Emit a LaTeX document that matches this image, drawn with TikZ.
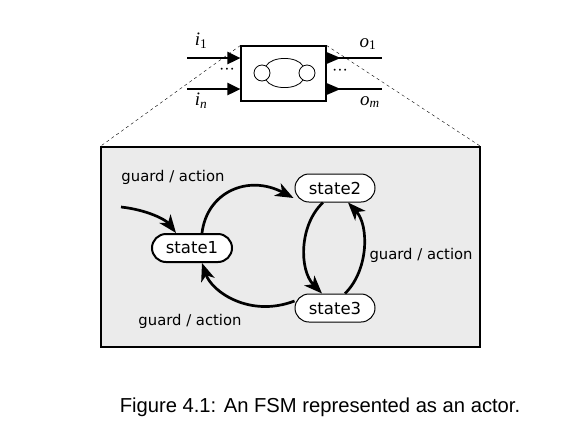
\documentclass[tikz,border=0pt]{standalone}
\usepackage{fontspec}
\setsansfont{DejaVu Sans}
\newfontfamily\capfont{Liberation Sans}
\newfontfamily\portfont{Liberation Serif}
\usetikzlibrary{arrows.meta,positioning,calc}

\begin{document}
\begin{tikzpicture}[x=1pt,y=-1pt,
  actorbox/.style={rectangle,draw,line width=1.1pt,fill=white,minimum width=85pt,minimum height=55pt,inner sep=0pt},
  portline/.style={line width=2.6pt,-{Triangle[length=13pt,width=12pt]}},
  portlab/.style={font=\portfont\itshape\fontsize{19}{21}\selectfont,inner sep=0pt},
  fsmstate/.style={rectangle,draw,fill=white,rounded corners=14pt,minimum width=80pt,minimum height=28pt,inner sep=0pt,font=\sffamily\fontsize{16.5}{18}\selectfont},
  trans/.style={line width=2.7pt,-{Stealth[length=18pt,width=14pt,inset=5pt]}},
  guardlab/.style={font=\sffamily\fontsize{14.8}{16}\selectfont}]
  \useasboundingbox (0,0) rectangle (576,440);
  %%actor
  \node[actorbox] (actor) at (283.5,73.5) {};
  \node[circle,draw,thick,minimum size=16pt,inner sep=0pt] (lc) at (262,73) {};
  \node[circle,draw,thick,minimum size=16pt,inner sep=0pt] (rc) at (307,73) {};
  \draw[thick] (lc.60) .. controls (272,56) and (297,56) .. (rc.120);
  \draw[thick] (lc.-60) .. controls (272,90) and (297,90) .. (rc.-120);
  %%ports
  \coordinate (i1) at (187,58);
  \coordinate (in) at (187,89);
  \coordinate (o1) at (382,58);
  \coordinate (om) at (382,89);
  \draw[portline] (i1) -- (actor.west |- i1);
  \draw[portline] (in) -- (actor.west |- in);
  \draw[line width=2.6pt] (actor.east |- o1) -- (o1);
  \draw[line width=2.6pt] (actor.east |- om) -- (om);
  \fill (actor.east |- o1) ++(0,-6) -- ++(14,6) -- ++(-14,6) -- cycle;
  \fill (actor.east |- om) ++(0,-6) -- ++(14,6) -- ++(-14,6) -- cycle;
  \node[portlab] at (201,41) {i\textsubscript{\upshape 1}};
  \node[portlab] at (201,101) {i\textsubscript{n}};
  \node[portlab] at (368,44) {o\textsubscript{\upshape 1}};
  \node[portlab] at (370,102) {o\textsubscript{m}};
  \node[font=\portfont\fontsize{16}{18}\selectfont] at (227,71) {···};
  \node[font=\portfont\fontsize{16}{18}\selectfont] at (340,72) {···};
  %%refinement
  \node[rectangle,draw,line width=1.3pt,fill=black!8,minimum width=379pt,minimum height=200pt,inner sep=0pt] (fsm) at (290.5,247) {};
  \draw[dashed,thin] (actor.north west) -- (fsm.north west);
  \draw[dashed,thin] (actor.north east) -- (fsm.north east);
  %%states
  \node[fsmstate,line width=2pt] (s1) at (192,248) {state1};
  \node[fsmstate,line width=1pt] (s2) at (335,188) {state2};
  \node[fsmstate,line width=1pt] (s3) at (335,308) {state3};
  \coordinate (init) at (121,207);
  %%transitions
  \draw[trans] (init) .. controls (148,210) and (166,220) .. ([xshift=-16pt]s1.north);
  \draw[trans] ([xshift=10pt]s1.north) .. controls (207,192) and (248,174) .. ([xshift=-1pt,yshift=-10pt]s2.west);
  \draw[trans] ([yshift=7pt]s3.west) .. controls (250,318) and (212,292) .. ([xshift=10pt]s1.south);
  \draw[trans] ([xshift=-12pt]s2.south) .. controls (299,225) and (299,270) .. ([xshift=-13pt]s3.north);
  \draw[trans] ([xshift=10pt]s3.north) .. controls (369,270) and (369,225) .. ([xshift=13pt]s2.south);
  \node[guardlab] (g1) at (173,177) {guard / action};
  \node[guardlab] (g2) at (190,321) {guard / action};
  \node[guardlab,anchor=west] (g3) at (366,255) {guard / action};
  %%caption
  \node[font=\capfont\fontsize{20.2}{22}\selectfont] (cap) at (320,407) {Figure 4.1: An FSM represented as an actor.};
\end{tikzpicture}
\end{document}
